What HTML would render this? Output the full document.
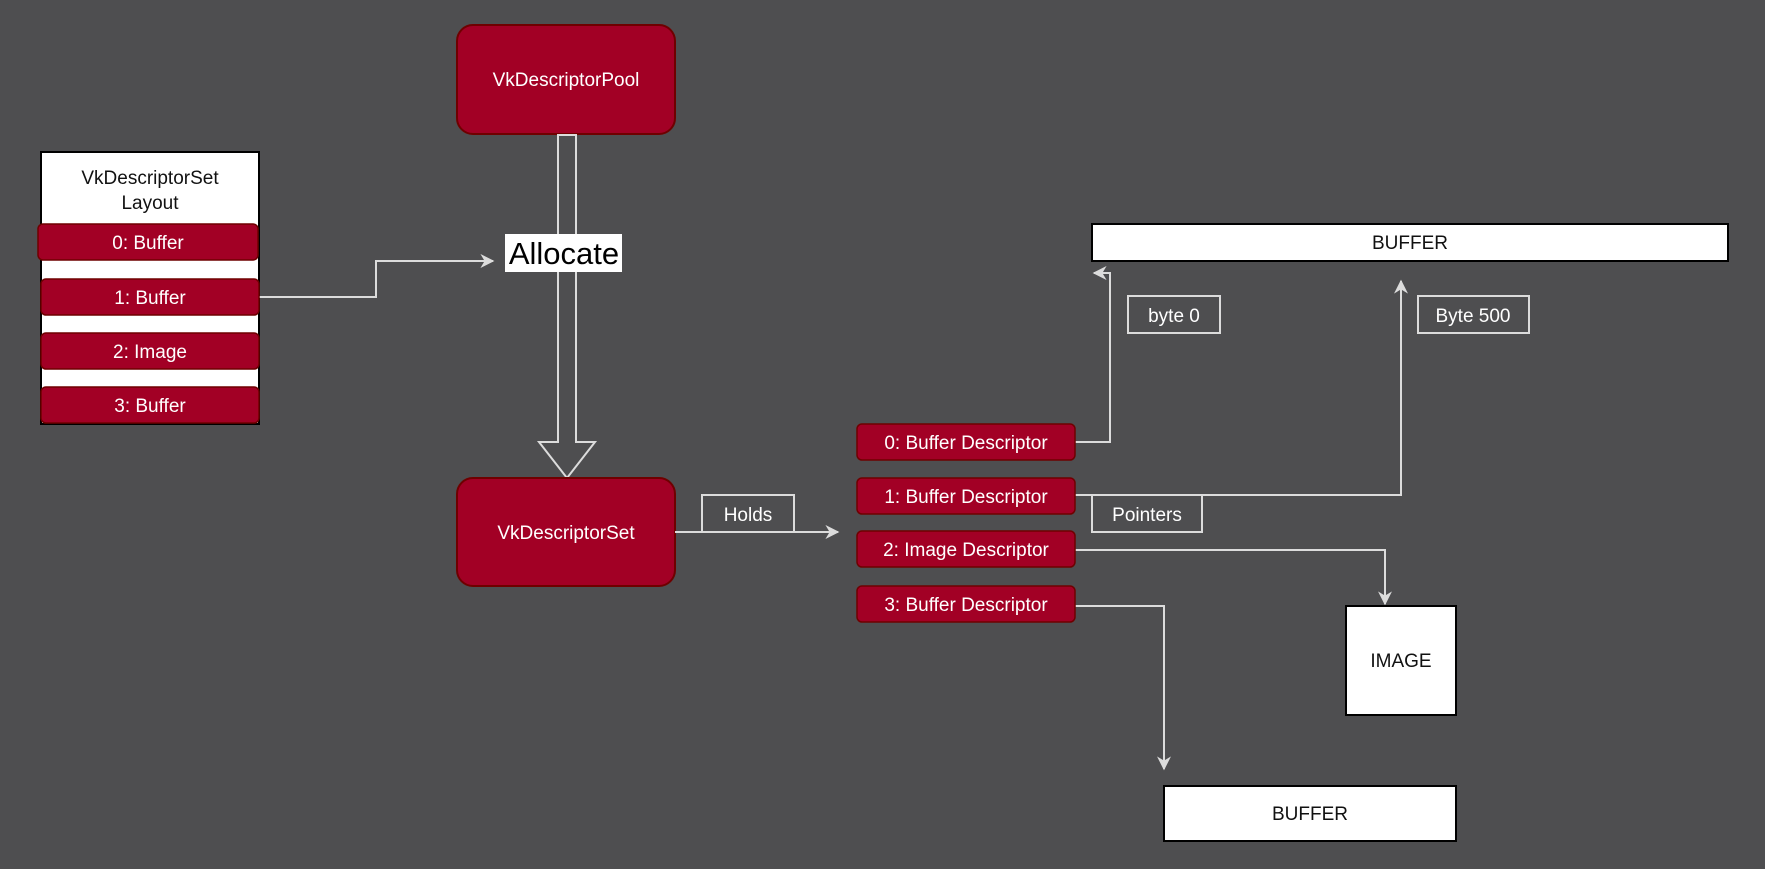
<!DOCTYPE html>
<html><head><meta charset="utf-8"><style>
body{margin:0;background:#4e4e50;}
svg{display:block;font-family:"Liberation Sans",sans-serif;}
</style></head><body>
<svg width="1765" height="869" viewBox="0 0 1765 869" xmlns="http://www.w3.org/2000/svg">
<rect width="1765" height="869" fill="#4e4e50"/>
<defs>
<marker id="a" viewBox="0 0 10 10" refX="9" refY="5" markerWidth="9" markerHeight="9" orient="auto" markerUnits="userSpaceOnUse"><path d="M0,0 L10,5 L0,10 L3,5 z" fill="#dcdcdc"/></marker>
<marker id="b" viewBox="0 0 10 10" refX="9" refY="5" markerWidth="14" markerHeight="14" orient="auto" markerUnits="userSpaceOnUse"><path d="M0,0 L10,5 L0,10 L3,5 z" fill="#dcdcdc"/></marker>
</defs>
<g fill="none" stroke="#dcdcdc" stroke-width="2">
<!-- pool -->
<rect x="457" y="25" width="218" height="109" rx="16" fill="#a20025" stroke="#6f0000"/>
<!-- layout -->
<rect x="41" y="152" width="218" height="272" fill="#fff" stroke="#000"/>
<!-- hollow arrow -->
<path d="M558,135 L576,135 L576,442 L595,442 L567,478 L539,442 L558,442 Z" fill="#4e4e50"/>
<!-- set -->
<rect x="457" y="478" width="218" height="108" rx="16" fill="#a20025" stroke="#6f0000"/>
<path d="M259,297 H376 V261 H493" marker-end="url(#b)"/>
<path d="M675,532 H838" marker-end="url(#b)"/>
<path d="M1075,442 H1110 V273 H1094" marker-end="url(#b)"/>
<path d="M1075,495 H1401 V281" marker-end="url(#b)"/>
<path d="M1075,550 H1385 V604" marker-end="url(#b)"/>
<path d="M1075,606 H1164 V769" marker-end="url(#b)"/>
<rect x="702" y="495" width="92" height="37" fill="#4e4e50"/>
<rect x="1128" y="296" width="92" height="37"/>
<rect x="1418" y="296" width="111" height="37"/>
<rect x="1092" y="495" width="110" height="37" fill="#4e4e50"/>
</g>
<g stroke="#6f0000" stroke-width="1.5" fill="#a20025">
<rect x="38" y="224" width="220" height="36" rx="5"/>
<rect x="41" y="279" width="218" height="36" rx="5"/>
<rect x="41" y="333" width="218" height="36" rx="5"/>
<rect x="41" y="387" width="218" height="36" rx="5"/>
<rect x="857" y="424" width="218" height="36" rx="5"/>
<rect x="857" y="478" width="218" height="36" rx="5"/>
<rect x="857" y="531" width="218" height="36" rx="5"/>
<rect x="857" y="586" width="218" height="36" rx="5"/>
</g>
<g fill="#fff" stroke="#000" stroke-width="2">
<rect x="1092" y="224" width="636" height="37"/>
<rect x="1346" y="606" width="110" height="109"/>
<rect x="1164" y="786" width="292" height="55"/>
</g>
<rect x="505" y="234" width="117" height="38" fill="#fff"/>
<g font-size="19" text-anchor="middle" fill="#fff">
<text x="566" y="86">VkDescriptorPool</text>
<text x="566" y="539">VkDescriptorSet</text>
<text x="148" y="249">0: Buffer</text>
<text x="150" y="304">1: Buffer</text>
<text x="150" y="358">2: Image</text>
<text x="150" y="412">3: Buffer</text>
<text x="966" y="449">0: Buffer Descriptor</text>
<text x="966" y="503">1: Buffer Descriptor</text>
<text x="966" y="556">2: Image Descriptor</text>
<text x="966" y="611">3: Buffer Descriptor</text>
<text x="748" y="521">Holds</text>
<text x="1174" y="322">byte 0</text>
<text x="1473" y="322">Byte 500</text>
<text x="1147" y="521">Pointers</text>
</g>
<g font-size="19" text-anchor="middle" fill="#111">
<text x="150" y="184">VkDescriptorSet</text>
<text x="150" y="209">Layout</text>
<text x="1410" y="249">BUFFER</text>
<text x="1401" y="667">IMAGE</text>
<text x="1310" y="820">BUFFER</text>
</g>
<text x="564" y="264" font-size="31" text-anchor="middle" fill="#000">Allocate</text>
</svg>
</body></html>
